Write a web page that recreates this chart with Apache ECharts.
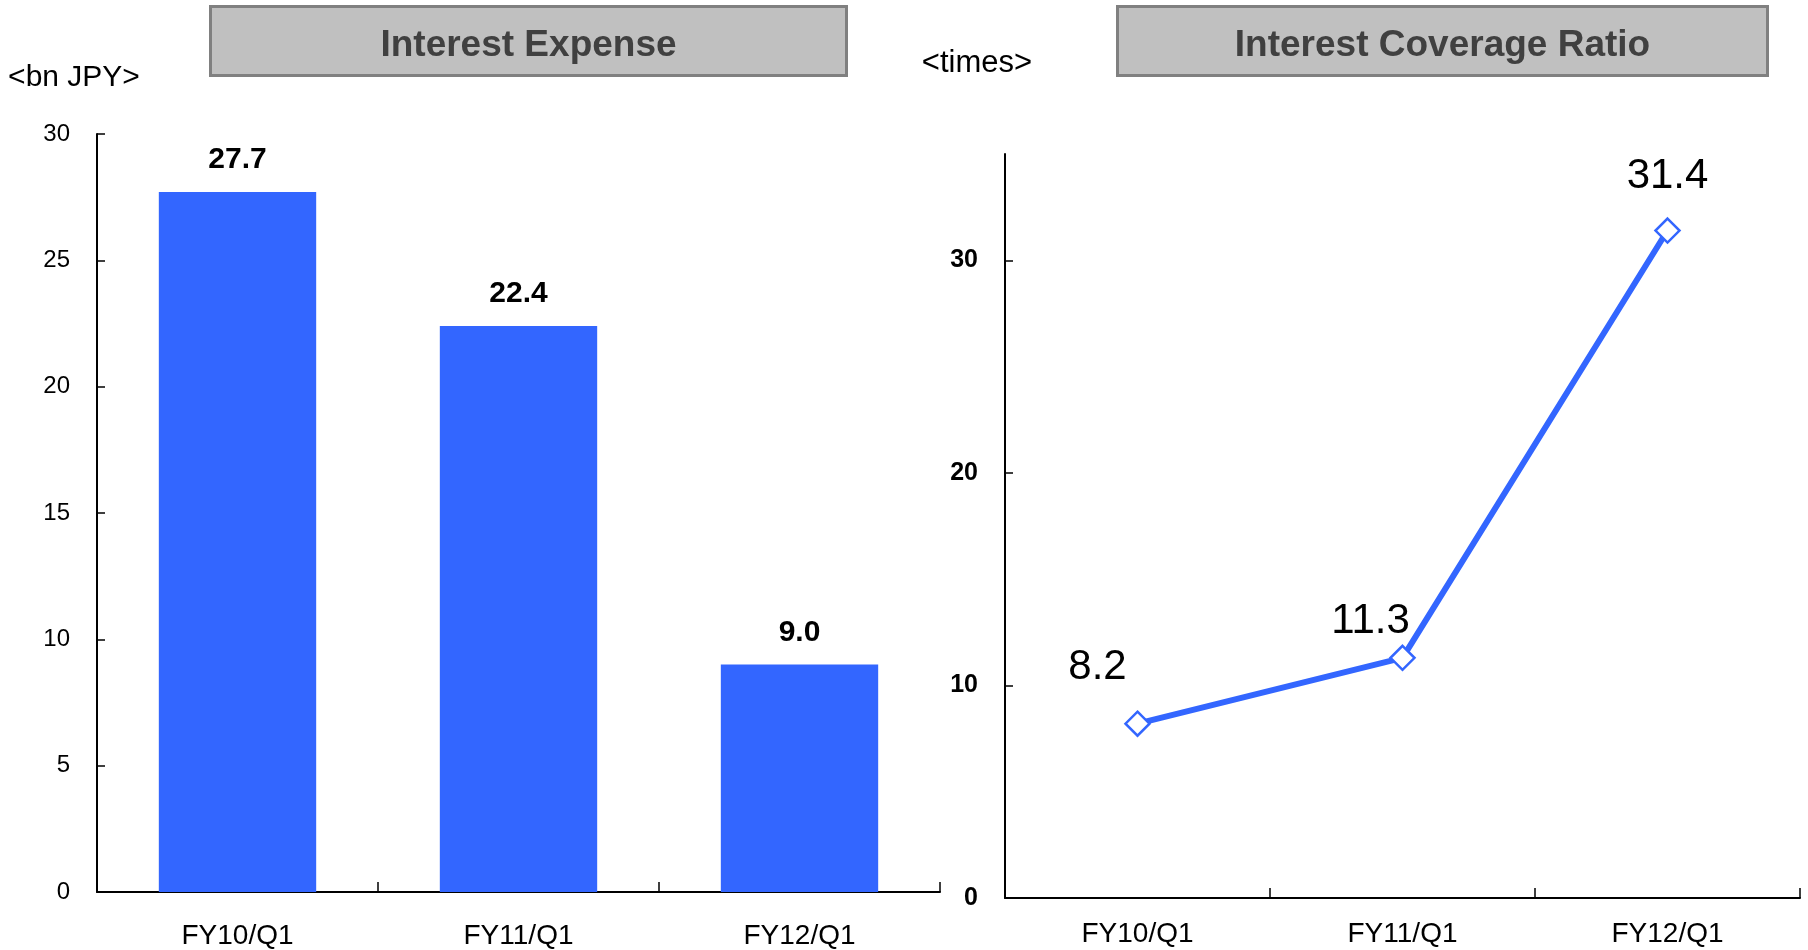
<!DOCTYPE html>
<html>
<head>
<meta charset="utf-8">
<script src="https://cdn.jsdelivr.net/npm/echarts@6/dist/echarts.min.js"></script>
<style>
html,body{margin:0;padding:0;background:#fff;}
#chart{width:1808px;height:950px;}
</style>
</head>
<body>
<div id="chart"></div>
<script>
const categories = ['FY10/Q1', 'FY11/Q1', 'FY12/Q1'];
const interestExpense = [27.7, 22.4, 9.0];
const coverageRatio = [8.2, 11.3, 31.4];
const leftTitle = 'Interest Expense';
const rightTitle = 'Interest Coverage Ratio';
const leftUnit = '<bn JPY>';
const rightUnit = '<times>';

const FONT = 'Liberation Sans, Arial, sans-serif';
const BLUE = '#3366ff';
// label offsets for the ratio points (style)
const ratioLabelOffsets = [[-40, -56], [-32, -36], [0, -54]];

const chart = echarts.init(document.getElementById('chart'), null, {renderer: 'canvas'});

function titleBox(x1, x2, text) {
  return [{
    type: 'rect',
    shape: {x: x1 + 1.5, y: 6.5, width: x2 - x1 - 3, height: 69},
    style: {fill: '#c0c0c0', stroke: '#808080', lineWidth: 3}
  }, {
    type: 'text',
    x: (x1 + x2) / 2, y: 46,
    style: {text: text, fill: '#404040', font: 'bold 37px ' + FONT, align: 'center', verticalAlign: 'middle'}
  }];
}

const catTick = {show: true, inside: true, length: 10, interval: 0, alignWithLabel: false, lineStyle: {color: '#000', width: 1.5}};

const option = {
  backgroundColor: '#ffffff',
  animation: false,
  graphic: [
    ...titleBox(209, 848, leftTitle),
    ...titleBox(1116, 1769, rightTitle),
    {type: 'text', x: 74, y: 78, style: {text: leftUnit, fill: '#000', font: '30px ' + FONT, align: 'center', verticalAlign: 'middle'}},
    {type: 'text', x: 977, y: 63, style: {text: rightUnit, fill: '#000', font: '31px ' + FONT, align: 'center', verticalAlign: 'middle'}}
  ],
  grid: [
    {left: 97, right: 868, top: 134, bottom: 58, containLabel: false},
    {left: 1005, right: 8, top: 154, bottom: 52, containLabel: false}
  ],
  xAxis: [{
    type: 'category', gridIndex: 0, data: categories, boundaryGap: true,
    axisLine: {lineStyle: {color: '#000', width: 2}},
    axisTick: catTick,
    axisLabel: {color: '#000', fontSize: 28, fontFamily: FONT, margin: 30}
  }, {
    type: 'category', gridIndex: 1, data: categories, boundaryGap: true,
    axisLine: {lineStyle: {color: '#000', width: 2}},
    axisTick: catTick,
    axisLabel: {color: '#000', fontSize: 28, fontFamily: FONT, margin: 22}
  }],
  yAxis: [{
    type: 'value', gridIndex: 0, min: 0, max: 30, interval: 5,
    axisLine: {show: true, lineStyle: {color: '#000', width: 2}},
    axisTick: {show: true, inside: true, length: 8, lineStyle: {color: '#000', width: 1.5}},
    splitLine: {show: false},
    axisLabel: {color: '#000', fontSize: 24, fontFamily: FONT, margin: 27}
  }, {
    type: 'value', gridIndex: 1, min: 0, max: 35, interval: 10,
    axisLine: {show: true, lineStyle: {color: '#000', width: 2}},
    axisTick: {show: true, inside: true, length: 8, lineStyle: {color: '#000', width: 1.5}},
    splitLine: {show: false},
    axisLabel: {color: '#000', fontSize: 25, fontWeight: 'bold', fontFamily: FONT, margin: 27,
      showMaxLabel: false,
      formatter: v => (v % 10 === 0 ? String(v) : '')}
  }],
  series: [{
    type: 'bar', xAxisIndex: 0, yAxisIndex: 0,
    data: interestExpense,
    barWidth: '56%',
    itemStyle: {color: BLUE},
    label: {show: true, position: 'top', distance: 17, color: '#000', fontSize: 30, fontWeight: 'bold', fontFamily: FONT,
      formatter: p => p.value.toFixed(1)}
  }, {
    type: 'line', xAxisIndex: 1, yAxisIndex: 1,
    data: coverageRatio.map((v, i) => ({
      value: v,
      label: {offset: ratioLabelOffsets[i]}
    })),
    symbol: 'diamond', symbolSize: 24, showAllSymbol: true,
    lineStyle: {color: BLUE, width: 6},
    itemStyle: {color: '#ffffff', borderColor: BLUE, borderWidth: 2.5},
    label: {show: true, position: 'inside', color: '#000', fontSize: 42, fontFamily: FONT,
      formatter: p => p.value.toFixed(1)},
    z: 3
  }]
};
chart.setOption(option);
</script>
</body>
</html>
